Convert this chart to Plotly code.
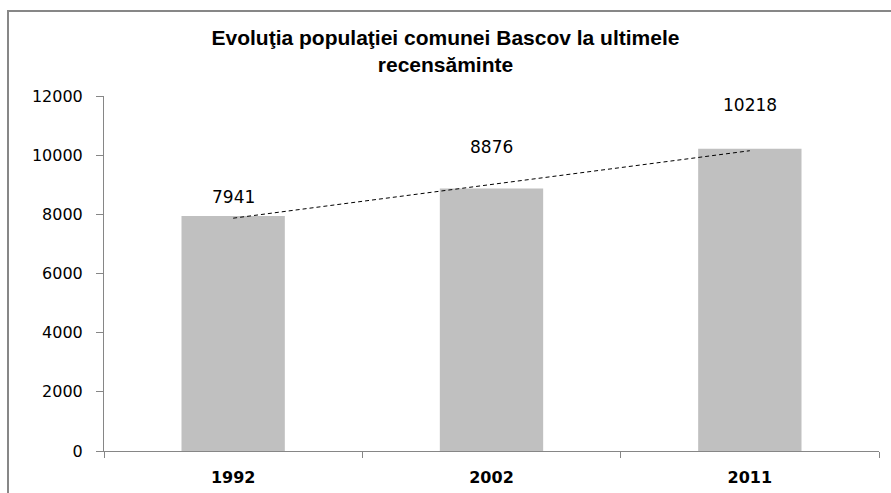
import plotly.graph_objects as go

years = ["1992", "2002", "2011"]
population = [7941, 8876, 10218]
# linear trend
trend = [7870, 9010, 10150]
# pixel offsets of the value labels above the bar tops
label_shift = [19, 41, 44]

fig = go.Figure()
fig.add_trace(go.Bar(x=years, y=population, marker_color="#c0c0c0",
                     marker_line_width=0, hoverinfo="skip"))
fig.add_trace(go.Scatter(x=years, y=trend, mode="lines",
                         line=dict(color="#000000", width=1, dash="4px,3px"),
                         hoverinfo="skip"))

# value labels (x given as category index so "1992" is not read as a number)
for i, (val, sh) in enumerate(zip(population, label_shift)):
    fig.add_annotation(x=i, y=val, text=str(val), showarrow=False,
                       yanchor="middle", yshift=sh,
                       font=dict(family="DejaVu Sans", size=17, color="#000000"))

# outer chart frame (runs off the right and bottom edge)
fig.add_shape(type="rect", xref="paper", yref="paper",
              x0=(8 - 104) / 775, x1=(896 - 104) / 775,
              y0=(451 - 500) / 355, y1=1 + (96 - 11) / 355,
              line=dict(color="#878787", width=2), layer="below")

fig.update_layout(
    width=891, height=493,
    margin=dict(l=104, r=12, t=96, b=42, autoexpand=False),
    paper_bgcolor="white", plot_bgcolor="white",
    showlegend=False, bargap=0.6,
    title=dict(text="Evoluţia populaţiei comunei Bascov la ultimele<br>recensăminte",
               x=0.5, xanchor="center", y=1 - 45 / 493, yanchor="top",
               font=dict(family="Liberation Sans", size=21, color="#000000", weight="bold")),
)
fig.update_xaxes(type="category", showline=True, linecolor="#868686", linewidth=1,
                 ticks="outside", tickson="boundaries", ticklen=6, tickcolor="#868686",
                 tickfont=dict(family="DejaVu Sans", size=16, color="#000000", weight="bold"),
                 tickangle=0, ticklabelstandoff=12, showgrid=False, fixedrange=True,
                 automargin=False)
fig.update_yaxes(range=[0, 12000], dtick=2000, tickformat="d", showline=True,
                 linecolor="#868686", linewidth=1, ticks="outside", ticklen=7,
                 tickcolor="#868686",
                 tickfont=dict(family="DejaVu Sans", size=16, color="#000000"),
                 ticklabelstandoff=10, showgrid=False, zeroline=False,
                 fixedrange=True, automargin=False)

fig.write_html("out.html", config={"displayModeBar": False},
               post_script="document.body.style.margin='0';")
